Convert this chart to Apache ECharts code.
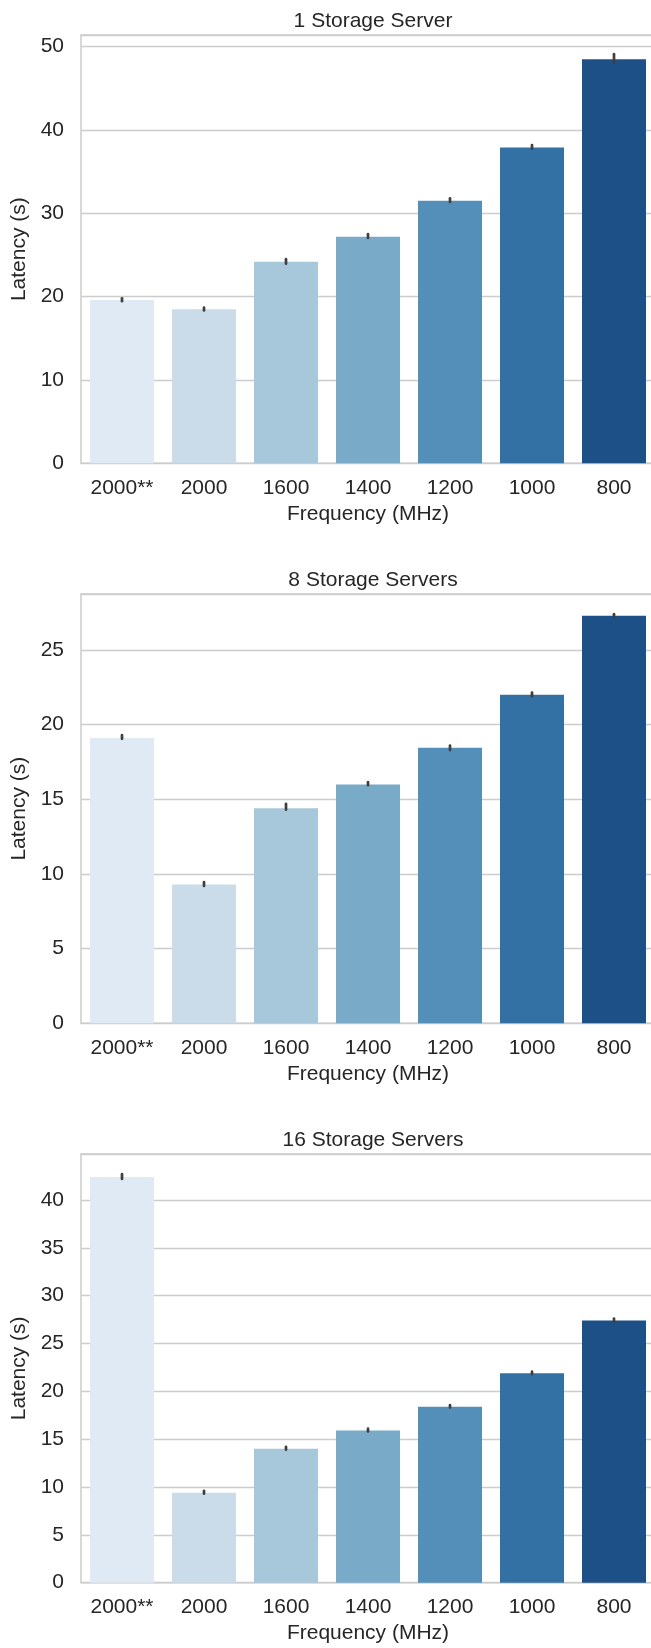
<!DOCTYPE html>
<html>
<head>
<meta charset="utf-8">
<script src="https://cdn.jsdelivr.net/npm/echarts@6/dist/echarts.min.js"></script>
<style>
  html, body { margin: 0; padding: 0; background: #ffffff; }
  #chart { width: 651px; height: 1648px; }
</style>
</head>
<body>
<div id="chart"></div>
<script>
// ---- data ----
const categories = ['2000**', '2000', '1600', '1400', '1200', '1000', '800'];
const panelTitles = ['1 Storage Server', '8 Storage Servers', '16 Storage Servers'];

const latency1 = [19.6, 18.5, 24.2, 27.2, 31.5, 37.9, 48.5];
const errLow1  = [19.45, 18.35, 23.95, 27.05, 31.35, 37.75, 48.1];
const errHigh1 = [19.8, 18.7, 24.5, 27.5, 31.8, 38.2, 49.1];

const latency2 = [19.1, 9.3, 14.4, 16.0, 18.45, 22.0, 27.3];
const errLow2  = [19.05, 9.2, 14.3, 15.95, 18.3, 21.9, 27.2];
const errHigh2 = [19.3, 9.45, 14.7, 16.15, 18.6, 22.15, 27.4];

const latency3 = [42.4, 9.4, 14.0, 15.9, 18.4, 21.9, 27.4];
const errLow3  = [42.2, 9.3, 13.9, 15.8, 18.3, 21.8, 27.25];
const errHigh3 = [42.7, 9.6, 14.2, 16.1, 18.55, 22.05, 27.6];

const yMax = [51.4, 28.75, 44.8];
const yInterval = [10, 5, 5];

const palette = ['#e0eaf4', '#cadbea', '#a7c7da', '#79aac8', '#548fba', '#3370a4', '#1d5087'];

// ---- layout ----
const latencies = [latency1, latency2, latency3];
const lows = [errLow1, errLow2, errLow3];
const highs = [errHigh1, errHigh2, errHigh3];
const gridTops = [35, 594, 1154];
const gridHeights = [428.3, 429.3, 428.7];
const FONT = '"Liberation Sans", Arial, sans-serif';
const TXT = '#262626';

const chart = echarts.init(document.getElementById('chart'), null, { renderer: 'canvas' });

const grids = [], xAxes = [], yAxes = [], series = [], titles = [];
for (let k = 0; k < 3; k++) {
  grids.push({
    left: 81, top: gridTops[k], width: 574, height: gridHeights[k],
    outerBoundsMode: 'none', containLabel: false,
    show: true, borderColor: '#cccccc', borderWidth: 1.5, backgroundColor: '#ffffff'
  });
  titles.push({
    text: panelTitles[k], left: 368, top: gridTops[k] - 29, textAlign: 'center',
    textStyle: { fontFamily: FONT, fontSize: 21, fontWeight: 'normal', color: TXT }
  });
  xAxes.push({
    type: 'category', gridIndex: k, data: categories,
    axisLine: { show: false }, axisTick: { show: false },
    axisLabel: { fontFamily: FONT, fontSize: 21, color: TXT, margin: 14 },
    name: 'Frequency (MHz)', nameLocation: 'middle', nameGap: 40,
    nameTextStyle: { fontFamily: FONT, fontSize: 21, color: TXT },
    splitLine: { show: false }
  });
  yAxes.push({
    type: 'value', gridIndex: k, min: 0, max: yMax[k], interval: yInterval[k],
    axisLine: { show: false }, axisTick: { show: false },
    axisLabel: {
      fontFamily: FONT, fontSize: 21, color: TXT, margin: 17,
      formatter: function (v) { return (Math.abs(v % yInterval[k]) < 1e-9) ? String(v) : ''; }
    },
    splitLine: { show: true, lineStyle: { color: '#cccccc', width: 1.3 } },
    name: 'Latency (s)', nameLocation: 'middle', nameGap: 48,
    nameTextStyle: { fontFamily: FONT, fontSize: 21, color: TXT }
  });
  series.push({
    type: 'bar', xAxisIndex: k, yAxisIndex: k,
    data: latencies[k], barWidth: 64,
    itemStyle: { color: function (p) { return palette[p.dataIndex]; } },
    silent: true, animation: false
  });
  const lo = lows[k], hi = highs[k];
  series.push({
    type: 'custom', xAxisIndex: k, yAxisIndex: k,
    data: categories.map(function (c, i) { return [i, lo[i], hi[i]]; }),
    renderItem: function (params, api) {
      const a = api.coord([api.value(0), api.value(1)]);
      const b = api.coord([api.value(0), api.value(2)]);
      return {
        type: 'line',
        shape: { x1: a[0], y1: a[1], x2: b[0], y2: b[1] },
        style: { stroke: '#3f3f3f', lineWidth: 2.7, lineCap: 'round' }
      };
    },
    z: 5, silent: true, animation: false
  });
}

chart.setOption({
  animation: false,
  backgroundColor: '#ffffff',
  title: titles,
  grid: grids,
  xAxis: xAxes,
  yAxis: yAxes,
  series: series
});
</script>
</body>
</html>
